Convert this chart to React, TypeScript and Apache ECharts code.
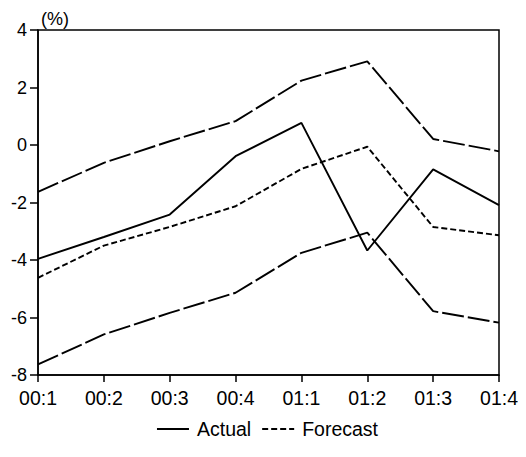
import React, { useEffect, useRef } from "react";
import * as echarts from "echarts";

const categories = ["00:1", "00:2", "00:3", "00:4", "01:1", "01:2", "01:3", "01:4"];
const actual = [-3.96, -3.2, -2.42, -0.39, 0.77, -3.67, -0.85, -2.09];
const forecast = [-4.62, -3.5, -2.85, -2.13, -0.83, -0.06, -2.85, -3.14];
const upper = [-1.63, -0.62, 0.13, 0.83, 2.24, 2.91, 0.21, -0.22];
const lower = [-7.63, -6.59, -5.84, -5.14, -3.75, -3.05, -5.78, -6.18];
const yTicks = [-8, -6, -4, -2, 0, 2, 4];

const FONT = "'Liberation Sans', Arial, sans-serif";

export default function App() {
  const ref = useRef<HTMLDivElement>(null);
  useEffect(() => {
    if (!ref.current) return;
    const chart = echarts.init(ref.current, null, { renderer: "svg" });
    chart.setOption({
      animation: false,
      backgroundColor: "#fff",
      grid: {
        left: 29,
        top: 22,
        width: 462,
        height: 345,
        show: true,
        borderColor: "#000",
        borderWidth: 1.5,
      },
      legend: {
        top: 406,
        left: "center",
        itemWidth: 32,
        itemHeight: 12,
        itemGap: 10,
        data: ["Actual", "Forecast"],
        itemStyle: { opacity: 0 },
        textStyle: { color: "#000", fontSize: 19.5, fontFamily: FONT, padding: [0, 0, 0, 3] },
      },
      xAxis: {
        type: "category",
        data: categories,
        boundaryGap: false,
        axisLine: { onZero: false, lineStyle: { color: "#000", width: 1.5 } },
        axisTick: { length: 7, lineStyle: { color: "#000", width: 1.5 } },
        axisLabel: { color: "#000", fontSize: 19.5, fontFamily: FONT, margin: 13 },
        splitLine: { show: false },
      },
      yAxis: {
        type: "value",
        min: yTicks[0],
        max: yTicks[yTicks.length - 1],
        interval: 2,
        name: "(%)",
        nameLocation: "end",
        nameGap: 2,
        nameTextStyle: {
          color: "#000",
          fontSize: 18,
          fontFamily: FONT,
          align: "left",
          verticalAlign: "bottom",
          padding: [0, 0, 0, 3],
        },
        axisLine: { show: true, onZero: false, lineStyle: { color: "#000", width: 1.5 } },
        axisTick: { show: true, length: 8, lineStyle: { color: "#000", width: 1.5 } },
        axisLabel: { color: "#000", fontSize: 18, fontFamily: FONT, margin: 11 },
        splitLine: { show: false },
      },
      series: [
        {
          name: "Actual",
          type: "line",
          data: actual,
          symbol: "none",
          lineStyle: { color: "#000", width: 1.9, type: "solid" },
          itemStyle: { color: "#000" },
        },
        {
          name: "Forecast",
          type: "line",
          data: forecast,
          symbol: "none",
          lineStyle: { color: "#000", width: 1.9, type: [6, 3] },
          itemStyle: { color: "#000" },
        },
        {
          name: "Upper",
          type: "line",
          data: upper,
          symbol: "none",
          lineStyle: { color: "#000", width: 1.9, type: [22, 4] },
          itemStyle: { color: "#000" },
        },
        {
          name: "Lower",
          type: "line",
          data: lower,
          symbol: "none",
          lineStyle: { color: "#000", width: 1.9, type: [22, 4] },
          itemStyle: { color: "#000" },
        },
      ],
    });
    return () => chart.dispose();
  }, []);
  return <div ref={ref} style={{ width: 518, height: 449 }} />;
}
